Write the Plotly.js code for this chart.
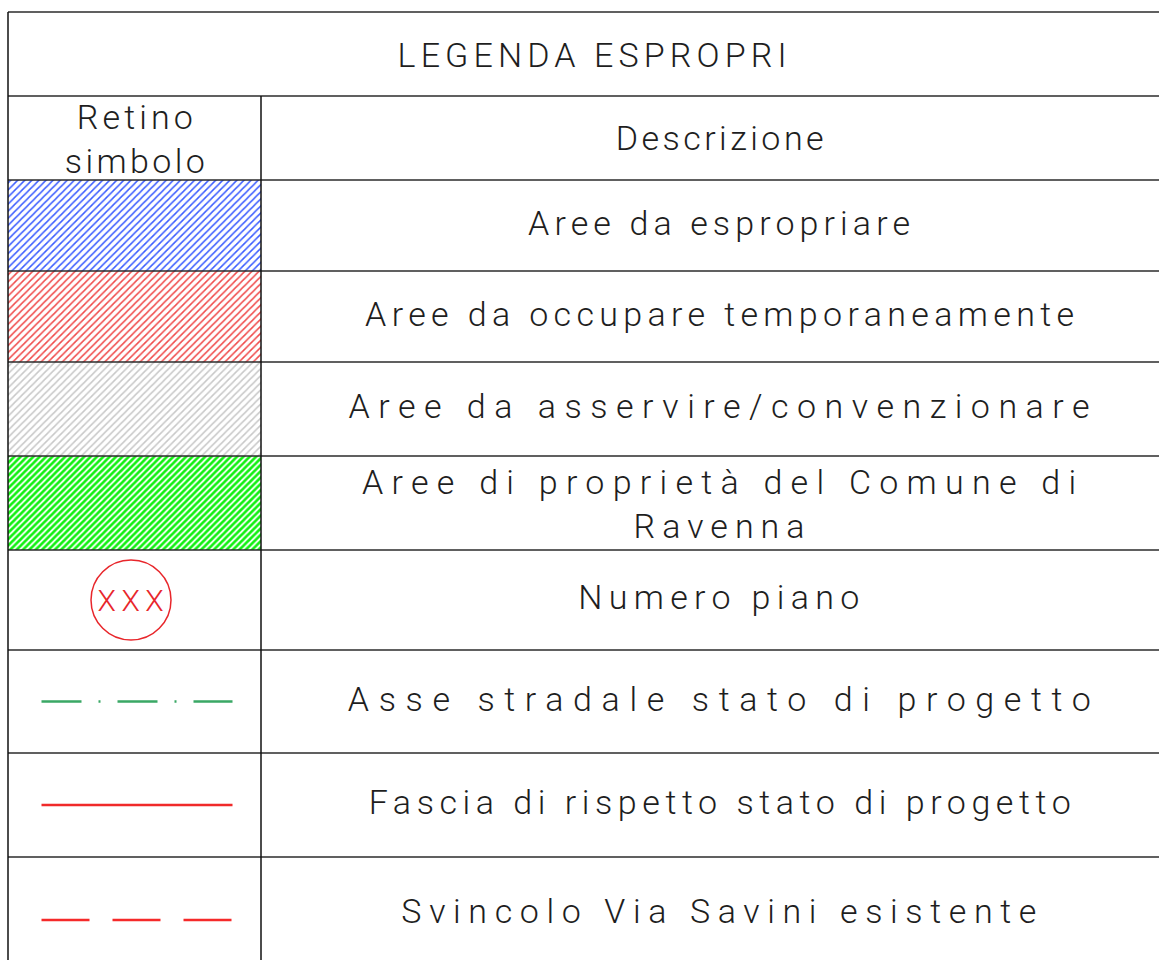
<!DOCTYPE html>
<html>
<head>
<meta charset="utf-8">
<script src="https://cdn.plot.ly/plotly-3.0.1.min.js"></script>
<style>
html,body{margin:0;padding:0;background:#fff;}
</style>
</head>
<body>
<div id="chart" style="width:1159px;height:960px;"></div>
<script>
// ---- data ----
const tableTitle = "LEGENDA ESPROPRI";
const headerSymbol = "Retino<br>simbolo";
const headerDescription = "Descrizione";
const descriptions = [
  "Aree da espropriare",
  "Aree da occupare temporaneamente",
  "Aree da asservire/convenzionare",
  "Aree di proprietà del Comune di<br>Ravenna",
  "Numero piano",
  "Asse stradale stato di progetto",
  "Fascia di rispetto stato di progetto",
  "Svincolo Via Savini esistente"
];
const symbolKinds = ["hatch", "hatch", "hatch", "hatch", "circle", "dashdot", "solid", "dash"];
const hatchColors = ["#3a5cff", "#f04a4a", "#c8c8c8", "#10f010"];
const circleLabel = "XXX";

// ---- style: widths of each text line in the wide CAD-like lettering ----
const lineWidthStyle = {
  "LEGENDA ESPROPRI": 389, "Retino": 116, "simbolo": 140, "Descrizione": 208,
  "Aree da espropriare": 382, "Aree da occupare temporaneamente": 709,
  "Aree da asservire/convenzionare": 741, "Aree di proprietà del Comune di": 714,
  "Ravenna": 171, "Numero piano": 281, "Asse stradale stato di progetto": 743,
  "Fascia di rispetto stato di progetto": 702, "Svincolo Via Savini esistente": 635,
  "XXX": 66
};

// ---- layout geometry (drawing units = pixels) ----
const X0 = 8, XCOL = 261, XEND = 1180;
const rowEdges = [12, 96, 180, 271, 362, 456, 550, 650, 753, 857, 965];
const lineColor = "#2b2b2b";
const textFont = {family: "Roboto, 'DejaVu Sans', sans-serif", size: 34, color: "#1e1e1e", weight: 300};

const shapes = [];
const annotations = [];
const traces = [];

for (let i = 0; i < rowEdges.length - 1; i++) {
  shapes.push({type: "line", x0: X0, x1: XEND, y0: rowEdges[i], y1: rowEdges[i], line: {color: lineColor, width: 1.5}});
}
shapes.push({type: "line", x0: X0, x1: X0, y0: rowEdges[0], y1: rowEdges[rowEdges.length - 1], line: {color: "#111", width: 1.5}});
shapes.push({type: "line", x0: XCOL, x1: XCOL, y0: rowEdges[1], y1: rowEdges[rowEdges.length - 1], line: {color: "#111", width: 1.5}});

const colC1 = (X0 + XCOL) / 2;
const colC2 = (XCOL + XEND) / 2 - 1.5;

annotations.push({x: (X0 + XEND) / 2 - 2, y: (rowEdges[0] + rowEdges[1]) / 2 + 1, text: tableTitle, showarrow: false, font: textFont, xanchor: "center", yanchor: "middle"});
annotations.push({x: colC1, y: (rowEdges[1] + rowEdges[2]) / 2 + 1, text: headerSymbol, showarrow: false, font: textFont, xanchor: "center", yanchor: "middle"});
annotations.push({x: colC2, y: (rowEdges[1] + rowEdges[2]) / 2, text: headerDescription, showarrow: false, font: textFont, xanchor: "center", yanchor: "middle"});

let hatchIdx = 0;
descriptions.forEach((d, i) => {
  const top = rowEdges[i + 2], bot = rowEdges[i + 3];
  const yc = (top + bot) / 2;
  const ty = i === 7 ? 911 : (i === 3 ? yc + 1 : yc - 3);
  annotations.push({x: colC2, y: ty, text: d, showarrow: false, font: textFont, xanchor: "center", yanchor: "middle"});
  const kind = symbolKinds[i];
  if (kind === "hatch") {
    const c = hatchColors[hatchIdx++];
    const green = hatchIdx === 4;
    traces.push({
      type: "bar", x: [colC1], base: [top], y: [bot - top], width: [XCOL - X0],
      marker: {color: "white", line: {width: 0},
        pattern: {shape: "/", fgcolor: c, bgcolor: "white", size: green ? 4.5 : 5, solidity: green ? 0.6 : 0.3}},
      hoverinfo: "skip", showlegend: false
    });
  } else if (kind === "circle") {
    const cx = 131;
    shapes.push({type: "circle", x0: cx - 40, x1: cx + 40, y0: yc - 40, y1: yc + 40, line: {color: "#e8262b", width: 1.5}});
    annotations.push({x: cx - 1, y: yc, text: circleLabel, showarrow: false,
      font: {family: textFont.family, size: 30, color: "#e8262b", weight: 300}, xanchor: "center", yanchor: "middle"});
  } else {
    const styles = {
      dashdot: {color: "#3aa865", dash: "40px,17px,2px,17px"},
      solid: {color: "#f02a2a", dash: "solid"},
      dash: {color: "#f52a2a", dash: "48px,23px"}
    };
    const st = styles[kind];
    const yl = i === 7 ? 920 : yc;
    traces.push({type: "scatter", mode: "lines", x: [41.5, 232.5], y: [yl, yl],
      line: {color: st.color, width: 2.5, dash: st.dash}, hoverinfo: "skip", showlegend: false});
  }
});

const layout = {
  width: 1159, height: 960,
  margin: {l: 0, r: 0, t: 0, b: 0},
  paper_bgcolor: "white", plot_bgcolor: "white",
  barmode: "overlay",
  xaxis: {range: [0, 1159], visible: false, fixedrange: true},
  yaxis: {range: [960, 0], visible: false, fixedrange: true},
  shapes: shapes,
  annotations: annotations,
  showlegend: false
};

function spreadLetters(gd) {
  gd.querySelectorAll(".annotation-text").forEach(t => {
    const lines = t.querySelectorAll("tspan.line");
    const els = lines.length ? Array.from(lines) : [t];
    els.forEach(el => {
      const txt = el.textContent;
      const w = lineWidthStyle[txt];
      if (!w || txt.length < 2) return;
      el.style.letterSpacing = "0px";
      const nat = el.getComputedTextLength();
      const ls = (w - nat) / (txt.length - 1);
      el.style.letterSpacing = ls + "px";
      el.setAttribute("dx", (ls / 2).toFixed(2));
    });
  });
}

Plotly.newPlot("chart", traces, layout, {displayModeBar: false, staticPlot: true}).then(spreadLetters);
</script>
</body>
</html>
